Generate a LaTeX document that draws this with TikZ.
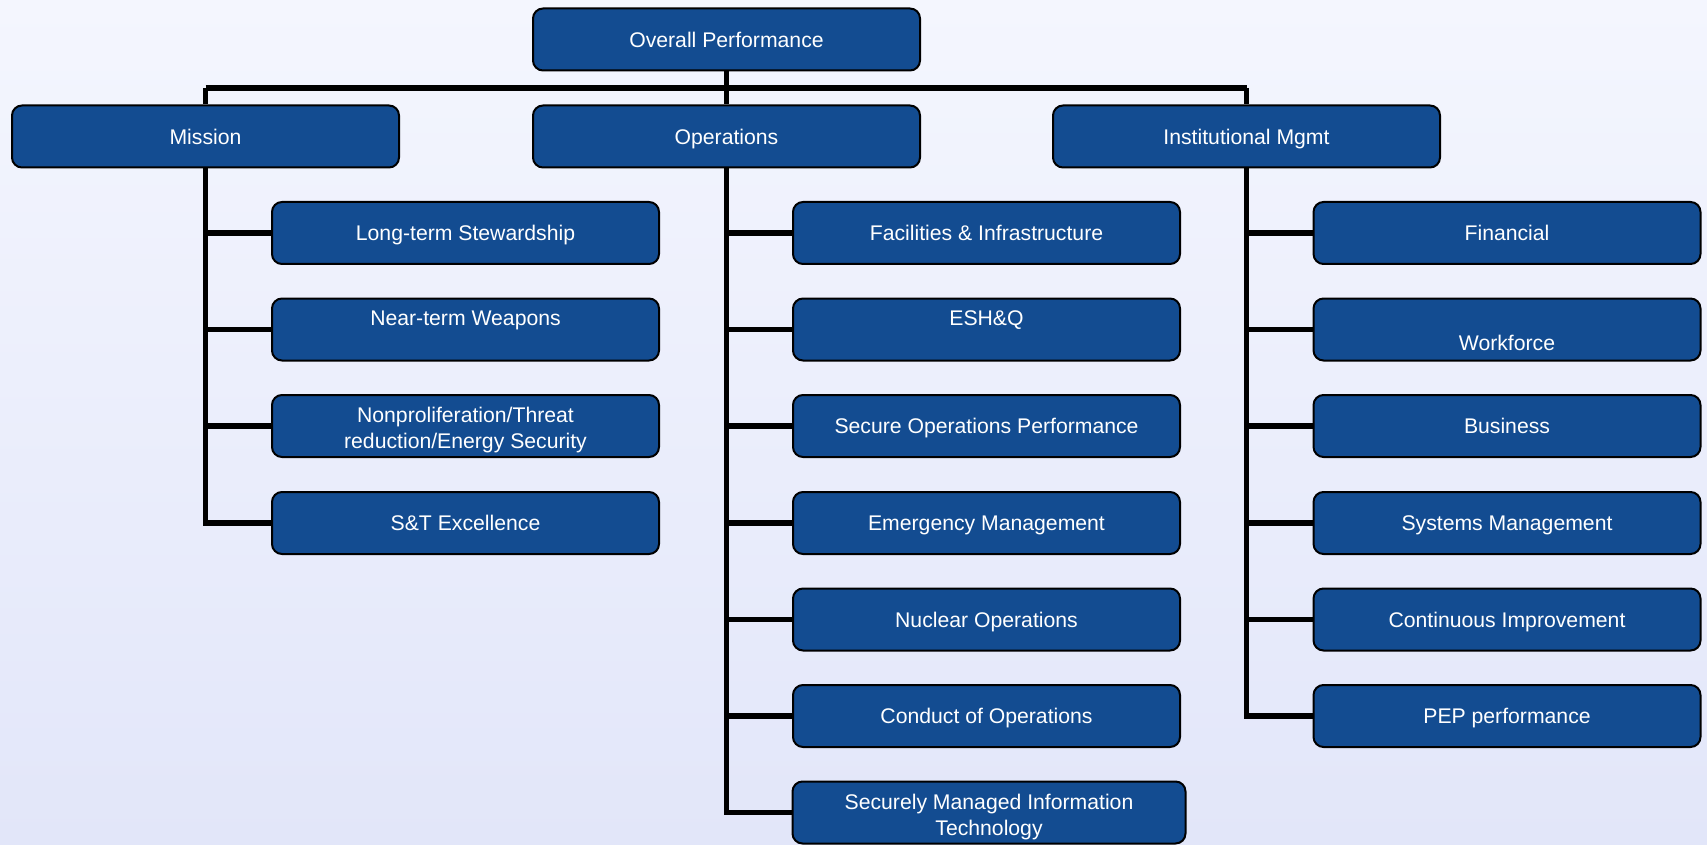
\documentclass[tikz,border=0pt]{standalone}
\usepackage{fontspec}
\setmainfont{Liberation Sans}
\pgfdeclarelayer{bg}
\pgfdeclarelayer{wires}
\pgfsetlayers{bg,wires,main}
\begin{document}
\begin{tikzpicture}[x=0.5pt,y=-0.5pt,
  box/.style={draw=black,line width=1pt,rounded corners=5pt,fill=boxblue,
    minimum width=193.5pt,minimum height=31pt,inner sep=2pt,
    text height=7.8pt,text depth=0.2pt,
    text=white,align=center,font=\fontsize{10.6}{13}\selectfont},
  twoline/.style={text height=23pt,text depth=0.2pt},
  txt/.style={text=white,align=center,inner sep=0pt,text height=7.8pt,text depth=0.2pt,
    font=\fontsize{10.6}{13}\selectfont},
  wire/.style={line width=2.7pt,draw=black}]
\definecolor{boxblue}{HTML}{134C91}
\definecolor{bgtop}{HTML}{F4F6FE}
\definecolor{bgbot}{HTML}{E2E6F9}
% page background
\begin{pgfonlayer}{bg}
\shade[shading=axis,shading angle=135,top color=bgtop,bottom color=bgbot]
  (0,0) rectangle (1707,845);
\end{pgfonlayer}
\useasboundingbox (0,0) rectangle (1707,845);

\def\rA{233}\def\rB{329.5}\def\rC{426}\def\rD{523}\def\rE{619.5}\def\rF{716}\def\rG{812.5}

\coordinate (bus) at (0,88);

% top and first level
\node[box] (top) at (726.5,39.5) {Overall Performance};
\node[box] (mis) at (205.5,136.5) {Mission};
\node[box] (ops) at (726.5,136.5) {Operations};
\node[box] (ins) at (1246.5,136.5) {Institutional Mgmt};

% Mission branch
\node[box] (m1) at (465.5,\rA) {Long-term Stewardship};
\node[box] (m2) at (465.5,\rB) {};
\node[txt] (m2t) at ([yshift=5.7pt]m2.center) {Near-term Weapons};
\node[box,twoline] (m3) at (465.5,\rC) {Nonproliferation/Threat\\reduction/Energy Security};
\node[box] (m4) at (465.5,\rD) {S\&T Excellence};

% Operations branch
\node[box] (o1) at (986.5,\rA) {Facilities \& Infrastructure};
\node[box] (o2) at (986.5,\rB) {};
\node[txt] (o2t) at ([yshift=5.7pt]o2.center) {ESH\&Q};
\node[box] (o3) at (986.5,\rC) {Secure Operations Performance};
\node[box] (o4) at (986.5,\rD) {Emergency Management};
\node[box] (o5) at (986.5,\rE) {Nuclear Operations};
\node[box] (o6) at (986.5,\rF) {Conduct of Operations};
\node[box,twoline,minimum width=196.5pt] (o7) at (989,\rG) {Securely Managed Information\\Technology};

% Institutional branch
\node[box] (i1) at (1507,\rA) {Financial};
\node[box] (i2) at (1507,\rB) {};
\node[txt] (i2t) at ([yshift=-6.8pt]i2.center) {Workforce};
\node[box] (i3) at (1507,\rC) {Business};
\node[box] (i4) at (1507,\rD) {Systems Management};
\node[box] (i5) at (1507,\rE) {Continuous Improvement};
\node[box] (i6) at (1507,\rF) {PEP performance};

% wiring drawn behind the boxes
\begin{pgfonlayer}{wires}
  \draw[wire] (top.south) -- (ops.north);
  \draw[wire] (mis.north |- bus) -- (ins.north |- bus);
  \draw[wire] (mis.north |- bus) -- (mis.north);
  \draw[wire] (ins.north |- bus) -- (ins.north);
  % Mission
  \draw[wire] (mis.south) |- (m4.west);
  \foreach \c in {m1,m2,m3} \draw[wire] (mis.south |- \c.west) -- (\c.west);
  % Operations
  \draw[wire] (ops.south) |- (o7.west);
  \foreach \c in {o1,o2,o3,o4,o5,o6} \draw[wire] (ops.south |- \c.west) -- (\c.west);
  % Institutional
  \draw[wire] (ins.south) |- (i6.west);
  \foreach \c in {i1,i2,i3,i4,i5} \draw[wire] (ins.south |- \c.west) -- (\c.west);
\end{pgfonlayer}
\end{tikzpicture}
\end{document}
